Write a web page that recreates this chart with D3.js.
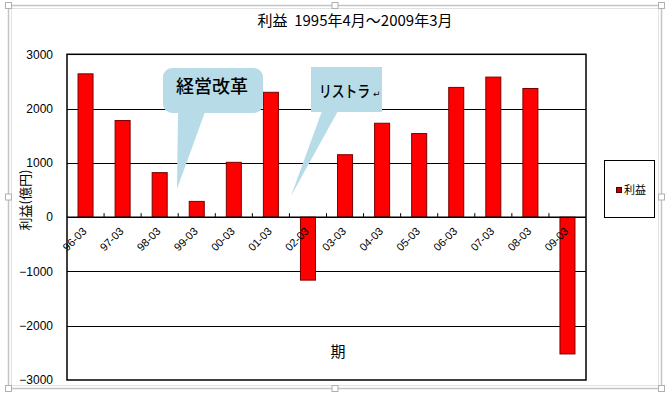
<!DOCTYPE html>
<html><head><meta charset="utf-8">
<script src="https://cdn.jsdelivr.net/npm/d3@7/dist/d3.min.js"></script>
<style>
html,body{margin:0;padding:0;background:#fff;}
svg{display:block;}
text{font-family:"Noto Sans CJK JP","Liberation Sans",sans-serif;fill:#000;}
.num{font-family:"Liberation Sans","DejaVu Sans",sans-serif;}
</style></head>
<body>
<svg id="chart" width="670" height="395"></svg>
<script>
const categories = ["96-03","97-03","98-03","99-03","00-03","01-03","02-03","03-03","04-03","05-03","06-03","07-03","08-03","09-03"];
const profit = [2640, 1780, 820, 290, 1010, 2300, -1160, 1150, 1730, 1540, 2390, 2580, 2370, -2520];
const yTicks = [-3000, -2000, -1000, 0, 1000, 2000, 3000];
const titleText = "利益\u00a0\u00a01995年4月～2009年3月";
const yTitle = "利益(億円)";
const xTitle = "期";
const seriesName = "利益";
const callout1 = "経営改革";
const callout2 = "リストラ";

const svg = d3.select("#chart");
const L = 67, R = 586, T = 54.3, B = 380;

// outer frame (selected chart object look)
const fg = svg.append("g");
fg.append("rect").attr("x", 8.5).attr("y", 5.5).attr("width", 653).attr("height", 383)
  .attr("fill", "none").attr("stroke", "#c4c4c4").attr("stroke-width", 1.5);
fg.append("rect").attr("x", 11.5).attr("y", 8.5).attr("width", 647).attr("height", 377)
  .attr("fill", "none").attr("stroke", "#e2e2e2").attr("stroke-width", 1);
const handles = [[8.5,5.5],[335,5.5],[661.5,5.5],[8.5,197],[661.5,197],[8.5,388.5],[335,388.5],[661.5,388.5]];
fg.selectAll(".h").data(handles).enter().append("rect")
  .attr("x", d => d[0]-3).attr("y", d => d[1]-3).attr("width", 6).attr("height", 6)
  .attr("fill", "#fff").attr("stroke", "#b0b0b0").attr("stroke-width", 1);

const x = d3.scaleBand().domain(categories).range([L, R]).paddingInner(0.595).paddingOuter(0.2975);
const y = d3.scaleLinear().domain([-3000, 3000]).range([B, T]);
const y0 = y(0);

// plot background
svg.append("rect").attr("x", L).attr("y", T).attr("width", R-L).attr("height", B-T).attr("fill", "#fff");

// gridlines
svg.append("g").selectAll("line").data(yTicks.filter(v => v !== 0 && v !== 3000 && v !== -3000)).enter()
  .append("line").attr("x1", L).attr("x2", R).attr("y1", d => Math.round(y(d))+0.5).attr("y2", d => Math.round(y(d))+0.5)
  .attr("stroke", "#000").attr("stroke-width", 1);

// y axis labels
const yAxis = d3.axisLeft(y).tickValues(yTicks).tickSize(0).tickPadding(14).tickFormat(d3.format("d"));
const gy = svg.append("g").attr("transform", `translate(${L},0)`).call(yAxis);
gy.select(".domain").remove();
gy.selectAll("text").attr("class", "num").style("font-size", "12px").style("font-family", "'Liberation Sans',sans-serif").attr("fill", "#000");

// bars
svg.append("g").selectAll("rect").data(profit).enter().append("rect")
  .attr("x", (d, i) => x(categories[i]))
  .attr("width", x.bandwidth())
  .attr("y", d => d >= 0 ? y(d) : y0)
  .attr("height", d => Math.abs(y(d) - y0))
  .attr("fill", "#ff0000").attr("stroke", "#7a0000").attr("stroke-width", 1);

// x axis (at zero)
const xAxis = d3.axisBottom(x).tickSize(0).tickFormat("");
const gx = svg.append("g").attr("transform", `translate(0,${y0})`).call(xAxis);
gx.select(".domain").remove();
svg.append("line").attr("x1", L).attr("x2", R).attr("y1", y0).attr("y2", y0).attr("stroke", "#000").attr("stroke-width", 1.5);
const step = x.step();
svg.append("g").selectAll("line").data(categories.slice(1)).enter().append("line")
  .attr("x1", (d) => x(d) - (step - x.bandwidth())/2).attr("x2", (d) => x(d) - (step - x.bandwidth())/2)
  .attr("y1", y0).attr("y2", y0 - 4).attr("stroke", "#000").attr("stroke-width", 1);

// x tick labels rotated
svg.append("g").selectAll("text").data(categories).enter().append("text")
  .attr("class", "num")
  .attr("transform", d => `translate(${x(d) + x.bandwidth()/2 - 1},${y0 + 12}) rotate(-45)`)
  .attr("text-anchor", "end").attr("dy", "0.35em")
  .style("font-size", "11px").style("font-family", "'Liberation Sans',sans-serif")
  .text(d => d);

// plot border
svg.append("rect").attr("x", L).attr("y", T).attr("width", R-L).attr("height", B-T)
  .attr("fill", "none").attr("stroke", "#000").attr("stroke-width", 1.5);

// title
svg.append("text").attr("x", 355).attr("y", 26).attr("text-anchor", "middle")
  .style("font-size", "15px").text(titleText);

// axis titles
svg.append("text").attr("transform", `translate(30,200) rotate(-90)`).attr("text-anchor", "middle")
  .style("font-size", "13px").text(yTitle);
svg.append("text").attr("x", 338).attr("y", 357).attr("text-anchor", "middle")
  .style("font-size", "15px").text(xTitle);

// legend
svg.append("rect").attr("x", 604.5).attr("y", 160.5).attr("width", 50).attr("height", 57)
  .attr("fill", "#fff").attr("stroke", "#000").attr("stroke-width", 1);
svg.append("rect").attr("x", 616.5).attr("y", 187.5).attr("width", 5).attr("height", 5)
  .attr("fill", "#c00000").attr("stroke", "#500000").attr("stroke-width", 1);
svg.append("text").attr("x", 624).attr("y", 194).style("font-size", "11px").text(seriesName);

// callouts
const calloutFill = "#b7dce7";
const c1 = svg.append("g");
c1.append("rect").attr("x", 163).attr("y", 68).attr("width", 100).attr("height", 45).attr("rx", 9)
  .attr("fill", calloutFill);
c1.append("path").attr("d", "M178,112 L205,112 L177,189 Z").attr("fill", calloutFill);
c1.append("text").attr("x", 212).attr("y", 93).attr("text-anchor", "middle")
  .style("font-size", "18px").style("font-weight", "500").attr("fill", "#222").text(callout1);

const c2 = svg.append("g");
c2.append("rect").attr("x", 311).attr("y", 67).attr("width", 71).attr("height", 45).attr("fill", calloutFill);
c2.append("path").attr("d", "M322,111 L338,111 L291,196 Z").attr("fill", calloutFill);
c2.append("text").attr("transform", "translate(319,97) scale(0.8,1)")
  .style("font-size", "16px").style("font-weight", "500").attr("fill", "#222").text(callout2);
c2.append("text").attr("x", 373).attr("y", 97).style("font-size", "9px")
  .style("font-family", "'DejaVu Sans',sans-serif").attr("fill", "#999").text("↵");
</script>
</body></html>
